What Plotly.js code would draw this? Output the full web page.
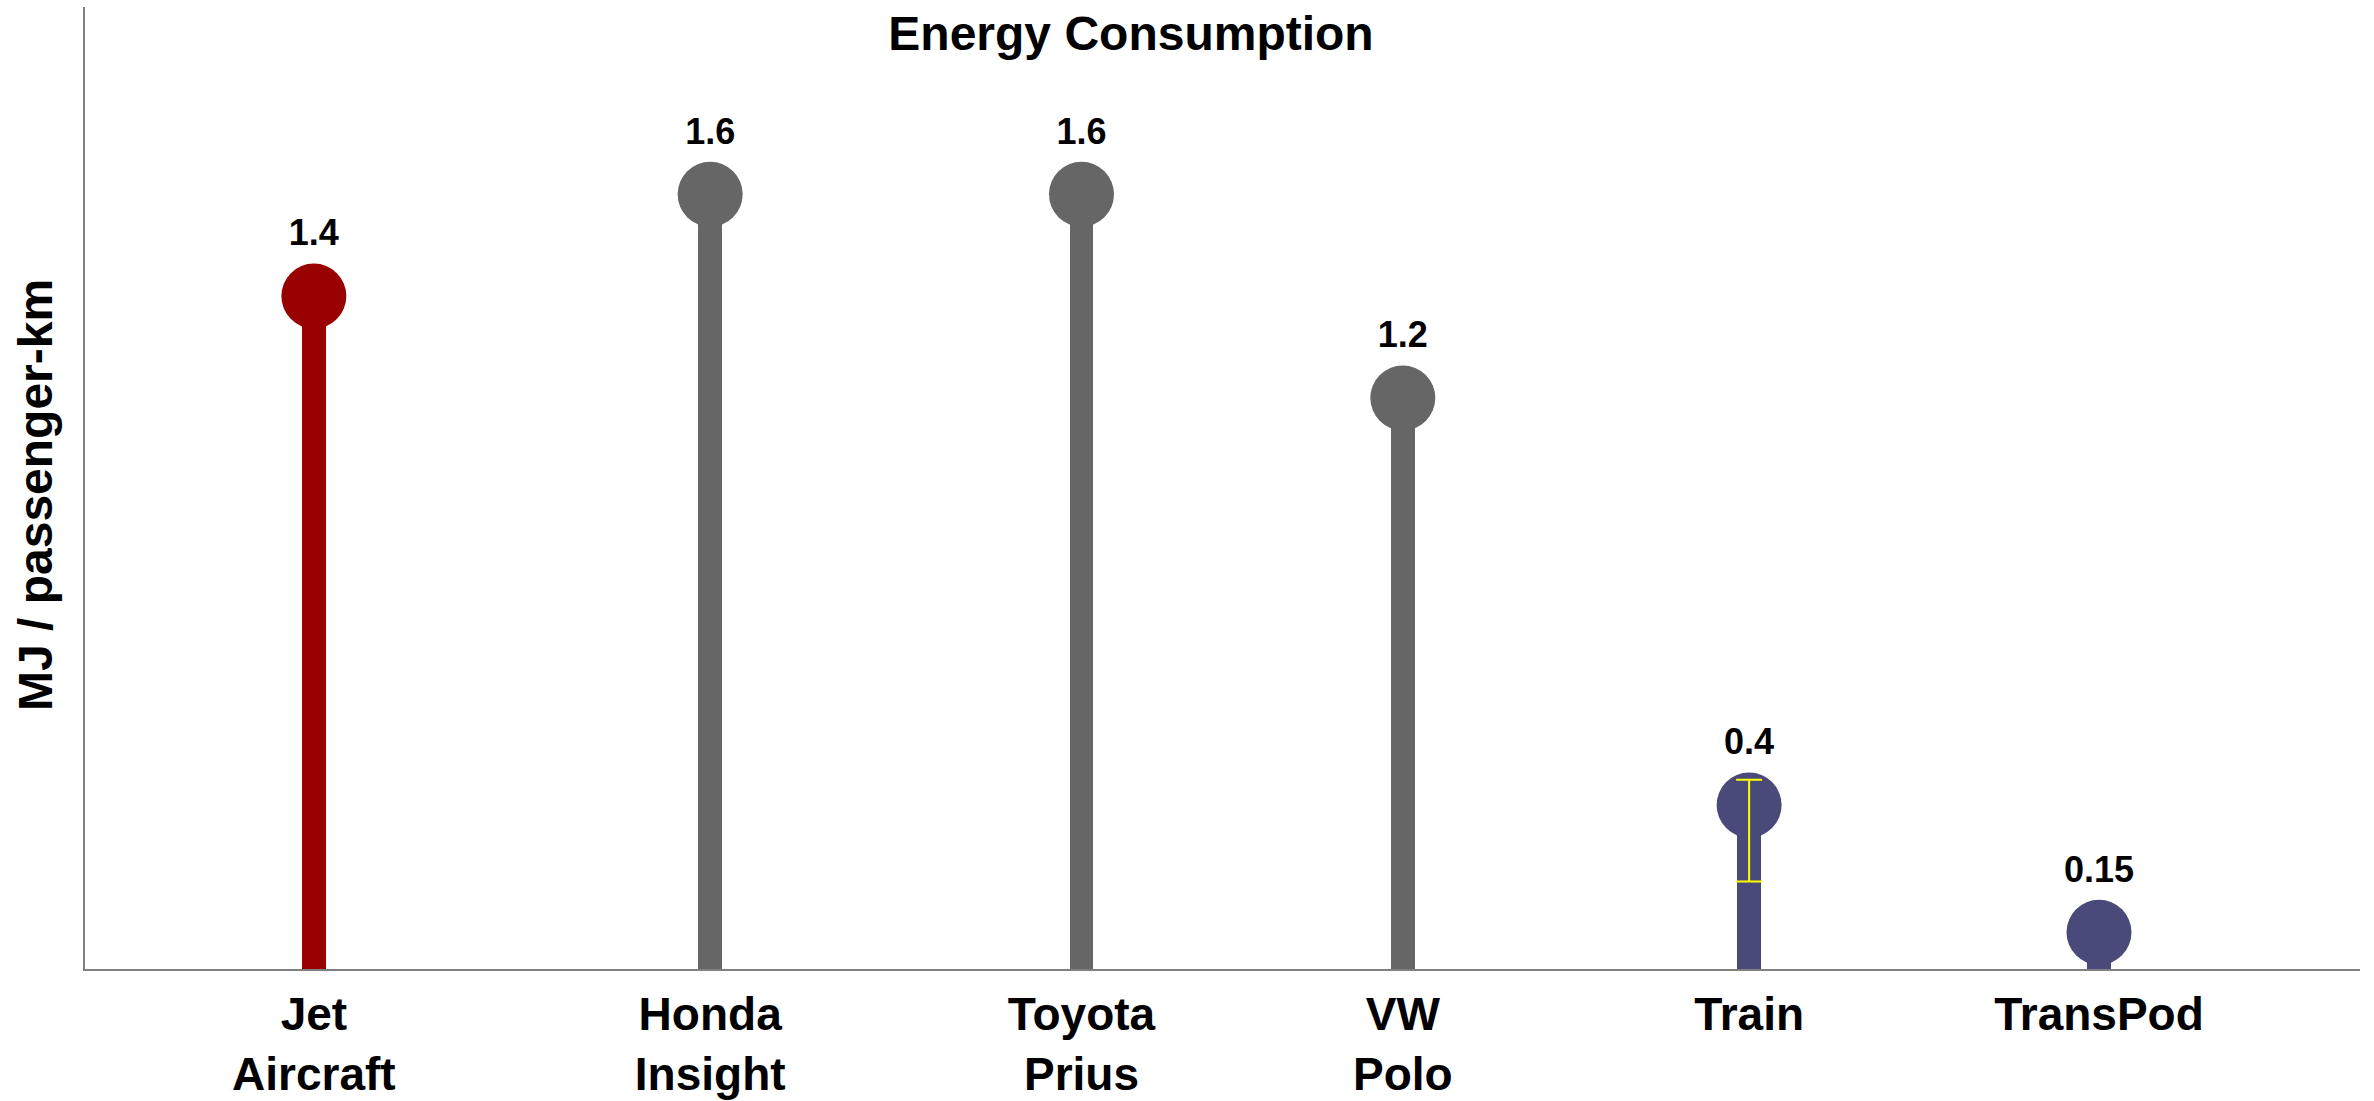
<!DOCTYPE html>
<html>
<head>
<meta charset="utf-8">
<script src="https://cdn.plot.ly/plotly-3.0.1.min.js"></script>
<style>
  html, body { margin: 0; padding: 0; background: #ffffff; }
  #chart { width: 2374px; height: 1101px; }
</style>
</head>
<body>
<div id="chart"></div>
<script>
// ---- data ----
const categories = ["Jet<br>Aircraft", "Honda<br>Insight", "Toyota<br>Prius", "VW<br>Polo", "Train", "TransPod"];
const values = [1.4, 1.6, 1.6, 1.2, 0.4, 0.15];
// category slot positions along the x axis (as placed in the original chart)
const xPos = [0, 1.11, 2.15, 3.05, 4.02, 5];
const colors = ["#990000", "#666666", "#666666", "#666666", "#494A7A", "#494A7A"];
// error range on the Train estimate
const errCategoryIndex = 4;
const errPlus = [0.05];
const errMinus = [0.15];
const yTitle = "MJ / passenger-km";
const chartTitle = "Energy Consumption";

const FONT = '"Liberation Sans", Arial, sans-serif';

const stems = {
  type: 'bar',
  x: xPos,
  y: values,
  base: 0,
  width: 0.067,
  marker: { color: colors, line: { width: 0 } },
  hoverinfo: 'skip',
  showlegend: false
};

const heads = {
  type: 'scatter',
  mode: 'markers+text',
  x: xPos,
  y: values,
  text: values.map(v => String(v)),
  textposition: 'top center',
  textfont: { family: FONT, size: 36, color: '#000000', weight: 'bold' },
  marker: { size: 65, color: colors, line: { width: 0 } },
  cliponaxis: false,
  showlegend: false,
  hoverinfo: 'x+y'
};

const errTrace = {
  type: 'scatter',
  mode: 'markers',
  x: [xPos[errCategoryIndex]],
  y: [values[errCategoryIndex]],
  marker: { size: 1, color: 'rgba(0,0,0,0)' },
  error_y: {
    type: 'data', symmetric: false,
    array: errPlus, arrayminus: errMinus,
    color: '#FFFF00', thickness: 2, width: 13
  },
  showlegend: false,
  hoverinfo: 'skip'
};

const layout = {
  width: 2374,
  height: 1101,
  paper_bgcolor: '#ffffff',
  plot_bgcolor: '#ffffff',
  font: { family: FONT, color: '#000000' },
  margin: { l: 85, r: 14, t: 7, b: 132, pad: 0 },
  bargap: 0,
  title: {
    text: '<b>' + chartTitle + '</b>',
    font: { family: FONT, size: 48, color: '#000000' },
    xref: 'container', yref: 'container',
    x: 1131 / 2374, xanchor: 'center',
    y: 1 - 33.5 / 1101, yanchor: 'middle'
  },
  xaxis: {
    range: [-0.641, 5.731],
    tickmode: 'array',
    tickvals: xPos,
    ticktext: categories.map(c => '<b>' + c + '</b>'),
    tickfont: { family: FONT, size: 46, color: '#000000' },
    ticks: '',
    ticklabelstandoff: 4,
    showline: true, linecolor: '#808080', linewidth: 2,
    showgrid: false, zeroline: false,
    fixedrange: true,
    automargin: false
  },
  yaxis: {
    range: [0.078, 1.968],
    showticklabels: false,
    ticks: '',
    showline: true, linecolor: '#808080', linewidth: 2,
    showgrid: false, zeroline: false,
    fixedrange: true,
    automargin: false
  },
  annotations: [{
    text: '<b>' + yTitle + '</b>',
    textangle: -90,
    xref: 'paper', yref: 'paper',
    x: (35 - 85) / 2275, xanchor: 'center',
    y: (969 - 495) / 962, yanchor: 'middle',
    showarrow: false,
    font: { family: FONT, size: 48, color: '#000000' }
  }]
};

Plotly.newPlot('chart', [stems, heads, errTrace], layout, { displayModeBar: false, staticPlot: true });
</script>
</body>
</html>
